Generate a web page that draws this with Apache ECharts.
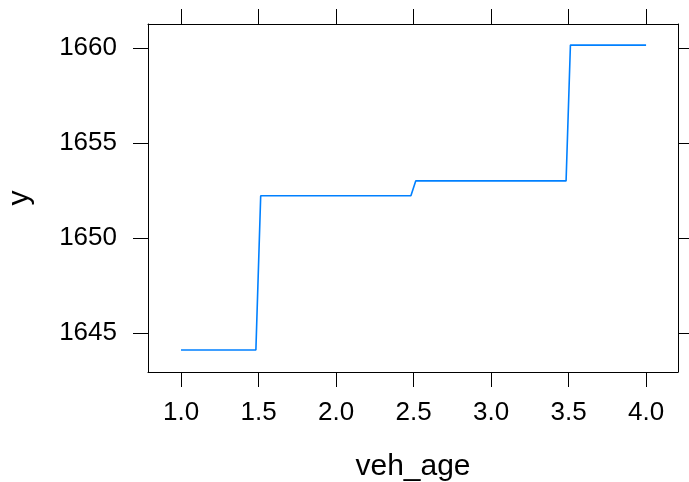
<!DOCTYPE html>
<html>
<head>
<meta charset="utf-8">
<script src="https://cdn.jsdelivr.net/npm/echarts@6/dist/echarts.min.js"></script>
<style>html,body{margin:0;padding:0;background:#fff;}#c{width:689px;height:482px;}</style>
</head>
<body>
<div id="c"></div>
<script>
// Data (step curve of y against veh_age)
const vehAge = [1.0, 1.483, 1.514, 2.483, 2.514, 3.484, 3.512, 4.0];
const yValues = [1644.12, 1644.12, 1652.24, 1652.24, 1653.02, 1653.02, 1660.17, 1660.17];
const xTicks = [1.0, 1.5, 2.0, 2.5, 3.0, 3.5, 4.0];
const yTicks = [1645, 1650, 1655, 1660];
const xTitle = 'veh_age';
const yTitle = 'y';

const xMin = 0.787, xMax = 4.206;
const yMin = 1642.96, yMax = 1661.28;

const font = '"Liberation Sans", Arial, Helvetica, sans-serif';
const chart = echarts.init(document.getElementById('c'), null, {renderer: 'canvas'});

function xAx(pos, labels) {
  return {
    type: 'value', position: pos, min: xMin, max: xMax, interval: 0.5,
    name: labels ? xTitle : '', nameLocation: 'middle', nameGap: 80,
    nameTextStyle: {fontFamily: font, fontSize: 30, color: '#000'},
    axisLine: {show: true, onZero: false, lineStyle: {color: '#000', width: 1}},
    axisTick: {show: true, inside: false, length: 15, lineStyle: {color: '#000', width: 1},
      customValues: xTicks},
    axisLabel: {show: labels, margin: 28, fontFamily: font, fontSize: 26, color: '#000',
      customValues: xTicks, formatter: v => v.toFixed(1)},
    splitLine: {show: false}
  };
}
function yAx(pos, labels) {
  return {
    type: 'value', position: pos, min: yMin, max: yMax,
    name: labels ? yTitle : '', nameLocation: 'middle', nameGap: 113, nameRotate: 90,
    nameTextStyle: {fontFamily: font, fontSize: 30, color: '#000'},
    axisLine: {show: true, onZero: false, lineStyle: {color: '#000', width: 1}},
    axisTick: {show: true, inside: false, length: 15, lineStyle: {color: '#000', width: 1},
      customValues: yTicks},
    axisLabel: {show: labels, margin: 31, fontFamily: font, fontSize: 26, color: '#000',
      customValues: yTicks, formatter: v => String(v)},
    splitLine: {show: false}
  };
}

chart.setOption({
  animation: false,
  backgroundColor: '#fff',
  grid: {left: 148, right: 11, top: 24, bottom: 110, containLabel: false, outerBoundsMode: 'none'},
  xAxis: [xAx('bottom', true), xAx('top', false)],
  yAxis: [yAx('left', true), yAx('right', false)],
  series: [{
    type: 'line',
    data: vehAge.map((x, i) => [x, yValues[i]]),
    showSymbol: false,
    lineStyle: {color: '#0080ff', width: 1.6},
    itemStyle: {color: '#0080ff'},
    clip: false
  }]
});
</script>
</body>
</html>
